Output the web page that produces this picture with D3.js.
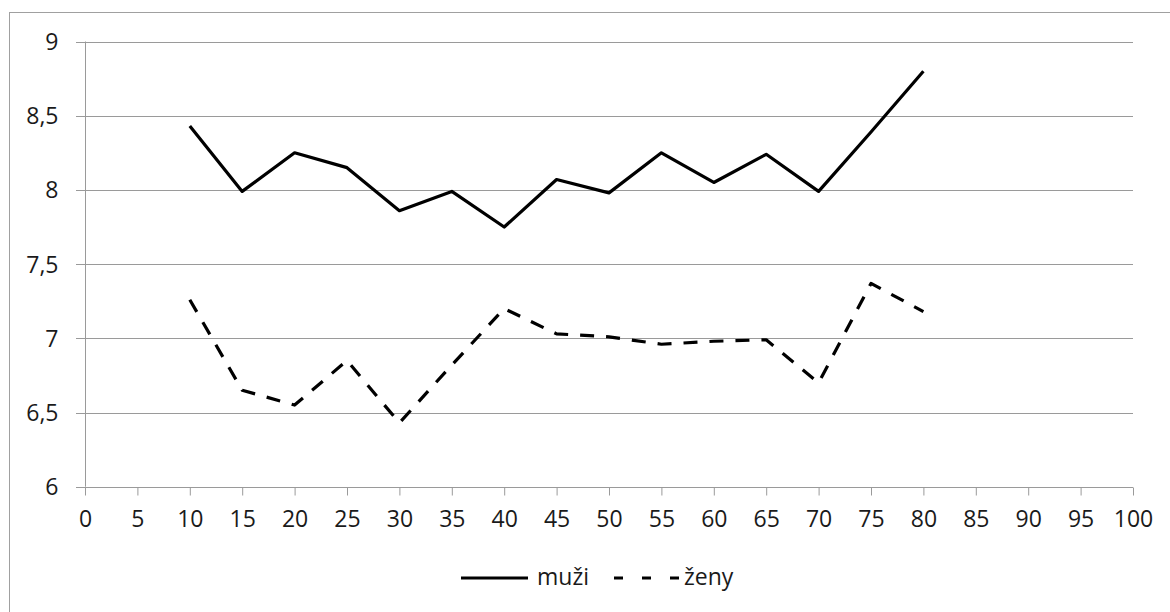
<!DOCTYPE html>
<html><head><meta charset="utf-8">
<script src="https://cdn.jsdelivr.net/npm/d3@7"></script>
<style>
html,body{margin:0;padding:0;background:#fff;}
svg{display:block;}
text{font-family:"Open Sans","Noto Sans",sans-serif;fill:#1a1a1a;}
</style></head><body>
<svg id="chart" width="1170" height="612"></svg>
<script>
const ages = [10,15,20,25,30,35,40,45,50,55,60,65,70,75,80];
const muzi = [8.43,7.99,8.25,8.15,7.86,7.99,7.75,8.07,7.98,8.25,8.05,8.24,7.99,8.39,8.80];
const zeny = [7.26,6.65,6.55,6.85,6.43,6.82,7.20,7.03,7.01,6.96,6.98,6.99,6.70,7.37,7.18];
const xTicks = d3.range(0,101,5);
const yTicks = [6,6.5,7,7.5,8,8.5,9];
const seriesNames = ["muži","ženy"];

const svg = d3.select("#chart");
svg.append("rect").attr("x",9.5).attr("y",12.5).attr("width",1170).attr("height",620)
  .attr("fill","none").attr("stroke","#a0a0a0").attr("stroke-width",1);

const x = d3.scaleLinear().domain([0,100]).range([85,1133]);
const y = d3.scaleLinear().domain([6,9]).range([486.7,41.5]);
const fmt = d => String(d).replace(".",",");
const FS = 23;

// gridlines
svg.append("g").selectAll("line").data(yTicks).join("line")
  .attr("x1",76).attr("x2",1133)
  .attr("y1",d=>Math.round(y(d))+0.5).attr("y2",d=>Math.round(y(d))+0.5)
  .attr("stroke","#9a9a9a").attr("stroke-width",1);

// y axis
const ya = svg.append("g").attr("transform","translate(85.5,0)")
  .call(d3.axisLeft(y).tickValues(yTicks).tickFormat(fmt).tickSize(0).tickPadding(27));
ya.select(".domain").attr("stroke","#9a9a9a").attr("d",`M0,${y(9)}V${y(6)}`);
ya.selectAll("text").attr("font-size",FS).attr("fill","#1a1a1a").attr("dy","0.35em")
  .style("font-family",'"Open Sans","Noto Sans",sans-serif');

// x axis
const xa = svg.append("g").attr("transform",`translate(0,${Math.round(y(6))+0.5})`)
  .call(d3.axisBottom(x).tickValues(xTicks).tickSize(8).tickPadding(15));
xa.select(".domain").attr("stroke","#9a9a9a").attr("d",`M${x(0)},0H${x(100)}`);
xa.selectAll(".tick line").attr("stroke","#9a9a9a");
xa.selectAll("text").attr("font-size",FS).attr("fill","#1a1a1a")
  .style("font-family",'"Open Sans","Noto Sans",sans-serif');

const line = d3.line().x((d,i)=>x(ages[i])).y(d=>y(d));
svg.append("path").datum(muzi).attr("d",line).attr("fill","none")
  .attr("stroke","#000").attr("stroke-width",3.2).attr("stroke-linejoin","round");
svg.append("path").datum(zeny).attr("d",line).attr("fill","none")
  .attr("stroke","#000").attr("stroke-width",3.2).attr("stroke-linejoin","round")
  .attr("stroke-dasharray","14,12");

// legend
const lg = svg.append("g");
lg.append("line").attr("x1",461).attr("x2",528).attr("y1",578).attr("y2",578)
  .attr("stroke","#000").attr("stroke-width",3.2);
lg.append("text").attr("x",537).attr("y",578).attr("dy","0.3em").attr("font-size",FS).text(seriesNames[0]);
lg.append("line").attr("x1",614).attr("x2",682).attr("y1",578).attr("y2",578)
  .attr("stroke","#000").attr("stroke-width",3.2).attr("stroke-dasharray","9,19");
lg.append("text").attr("x",684).attr("y",578).attr("dy","0.3em").attr("font-size",FS).text(seriesNames[1]);
</script>
</body></html>
